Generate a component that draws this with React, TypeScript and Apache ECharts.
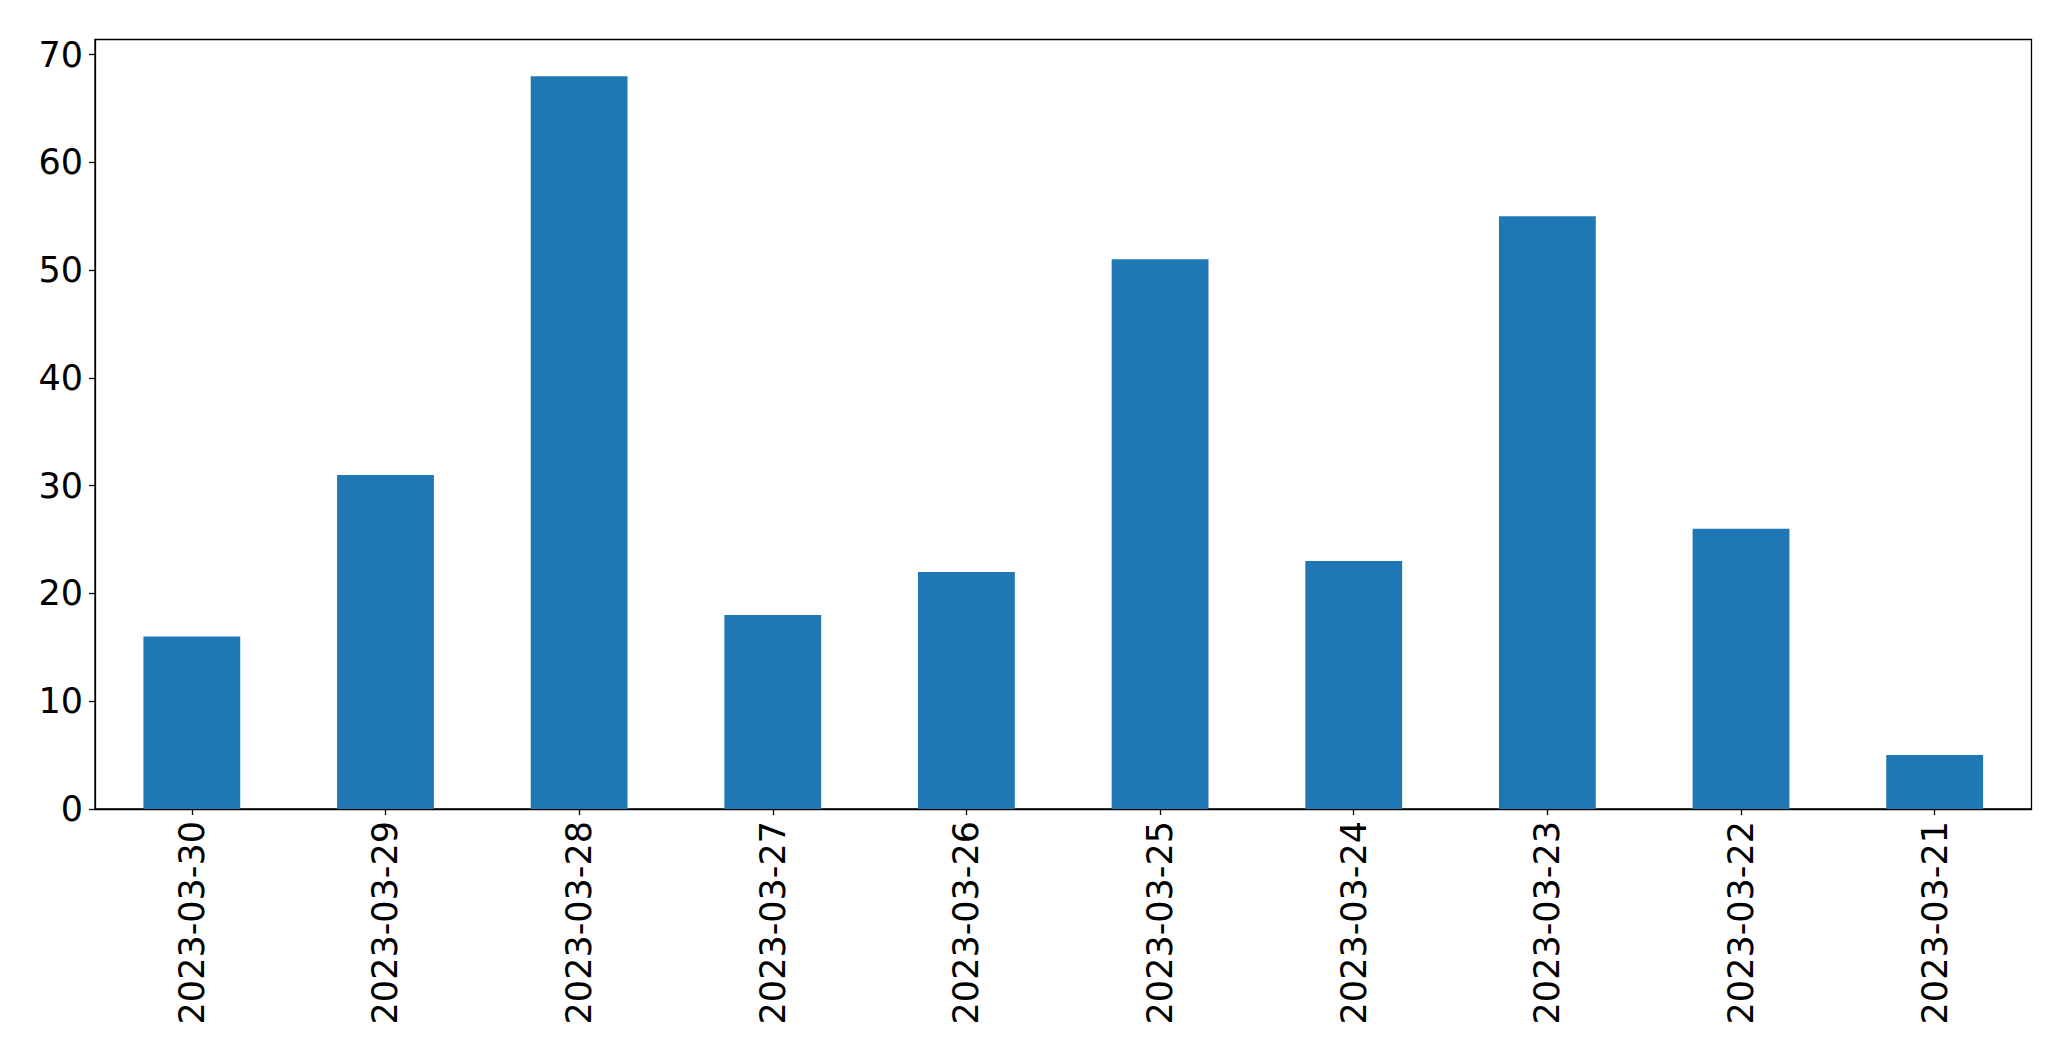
import React, { useEffect, useRef } from "react";
import * as echarts from "echarts";

const categories = [
  "2023-03-30",
  "2023-03-29",
  "2023-03-28",
  "2023-03-27",
  "2023-03-26",
  "2023-03-25",
  "2023-03-24",
  "2023-03-23",
  "2023-03-22",
  "2023-03-21",
];
const values = [16, 31, 68, 18, 22, 51, 23, 55, 26, 5];
const yTicks = [0, 10, 20, 30, 40, 50, 60, 70];
const yMax = 71.4;

export default function App() {
  const ref = useRef<HTMLDivElement>(null);
  useEffect(() => {
    if (!ref.current) return;
    const chart = echarts.init(ref.current, undefined, { renderer: "svg" });
    const font = "DejaVu Sans";
    chart.setOption({
      animation: false,
      backgroundColor: "#ffffff",
      grid: {
        left: 95,
        right: 39.5,
        top: 39.5,
        bottom: 252,
        show: true,
        borderColor: "#000000",
        borderWidth: 1.3,
        backgroundColor: "transparent",
        containLabel: false,
      },
      xAxis: {
        type: "category",
        data: categories,
        boundaryGap: true,
        axisLine: { show: true, lineStyle: { color: "#000", width: 1.3 } },
        axisTick: {
          show: true,
          alignWithLabel: true,
          length: 6,
          lineStyle: { color: "#000", width: 1.3 },
        },
        axisLabel: {
          rotate: 90,
          margin: 12,
          fontFamily: font,
          fontSize: 35,
          color: "#000",
          interval: 0,
        },
        splitLine: { show: false },
      },
      yAxis: {
        type: "value",
        min: 0,
        max: yMax,
        axisLine: { show: true, lineStyle: { color: "#000", width: 1.3 } },
        axisTick: {
          show: true,
          length: 6,
          customValues: yTicks,
          lineStyle: { color: "#000", width: 1.3 },
        },
        axisLabel: {
          margin: 12,
          fontFamily: font,
          fontSize: 35,
          color: "#000",
          customValues: yTicks,
        },
        splitLine: { show: false },
      },
      series: [
        {
          type: "bar",
          data: values,
          barWidth: "50%",
          itemStyle: { color: "#1f77b4" },
        },
      ],
    });
    return () => chart.dispose();
  }, []);
  return (
    <div
      ref={ref}
      style={{ position: "fixed", left: 0, top: 0, width: 2071, height: 1061, background: "#fff" }}
    />
  );
}
